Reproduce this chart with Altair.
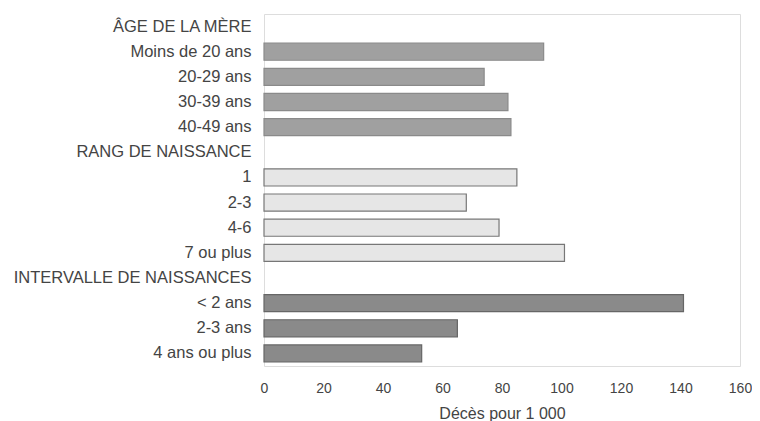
import altair as alt
import pandas as pd

rows = ["ÂGE DE LA MÈRE", "Moins de 20 ans", "20-29 ans", "30-39 ans", "40-49 ans",
        "RANG DE NAISSANCE", "1", "2-3", "4-6", "7 ou plus",
        "INTERVALLE DE NAISSANCES", "< 2 ans", "2-3 ans", "4 ans ou plus"]

age_labels = ["Moins de 20 ans", "20-29 ans", "30-39 ans", "40-49 ans"]
age_values = [94, 74, 82, 83]
rang_labels = ["1", "2-3", "4-6", "7 ou plus"]
rang_values = [85, 68, 79, 101]
interv_labels = ["< 2 ans", "2-3 ans", "4 ans ou plus"]
interv_values = [141, 65, 53]

tick_values = [0, 20, 40, 60, 80, 100, 120, 140, 160]

groups = ["age", "rang", "intervalle"]
fills = ["#a0a0a0", "#e6e6e6", "#8a8a8a"]
strokes = ["#8a8a8a", "#777777", "#666666"]

df = pd.DataFrame({
    "cat": age_labels + rang_labels + interv_labels,
    "val": age_values + rang_values + interv_values,
    "grp": ["age"] * 4 + ["rang"] * 4 + ["intervalle"] * 3,
})

font = "Liberation Sans"

chart = alt.Chart(df).mark_bar(strokeWidth=1.2).encode(
    y=alt.Y("cat:N", sort=rows,
            scale=alt.Scale(domain=rows, paddingInner=0.32, paddingOuter=0.16),
            axis=alt.Axis(title=None, ticks=False, domain=False, labelPadding=13,
                          labelFontSize=16.5, labelColor="#444444", labelFont=font,
                          labelLimit=300)),
    x=alt.X("val:Q", scale=alt.Scale(domain=[0, 160], nice=False, zero=True),
            axis=alt.Axis(title="Décès pour 1 000", values=tick_values,
                          ticks=False, domain=False, grid=False, labelPadding=15,
                          labelFontSize=14, labelColor="#444444", labelFont=font,
                          labelOverlap=False, labelBound=False, labelFlush=False,
                          titleFontSize=16, titleFontWeight="normal", titleColor="#444444",
                          titleFont=font, titlePadding=10)),
    fill=alt.Fill("grp:N", scale=alt.Scale(domain=groups, range=fills), legend=None),
    stroke=alt.Stroke("grp:N", scale=alt.Scale(domain=groups, range=strokes), legend=None),
).properties(
    width=476, height=352,
    autosize=alt.AutoSizeParams(type="none"),
    padding={"left": 256, "top": 6, "right": 12, "bottom": 55},
).configure_view(stroke="#8a8a8a", strokeWidth=1.2).configure(background="white")

chart.save("out.html", embed_options={"renderer": "svg", "actions": False})
